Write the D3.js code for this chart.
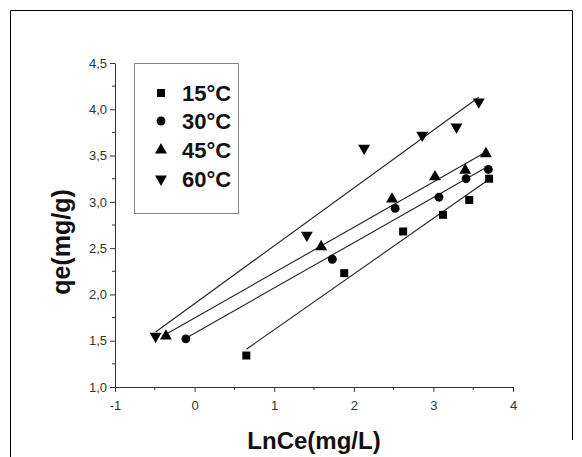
<!DOCTYPE html>
<html>
<head>
<meta charset="utf-8">
<script src="https://cdn.jsdelivr.net/npm/d3@7"></script>
<style>
  html, body { margin: 0; padding: 0; background: #fff; }
  svg { display: block; }
</style>
</head>
<body>
<svg id="chart" width="582" height="457"></svg>
<script>
// ---- data ----
const seriesNames = ["15°C", "30°C", "45°C", "60°C"];
const x15 = [0.65, 1.88, 2.62, 3.12, 3.45, 3.70];
const y15 = [1.34, 2.23, 2.68, 2.86, 3.02, 3.25];
const x30 = [-0.11, 1.73, 2.52, 3.07, 3.41, 3.69];
const y30 = [1.52, 2.38, 2.93, 3.05, 3.25, 3.35];
const x45 = [-0.36, 1.59, 2.48, 3.02, 3.40, 3.66];
const y45 = [1.55, 2.515, 3.03, 3.27, 3.34, 3.52];
const x60 = [-0.49, 1.41, 2.13, 2.86, 3.29, 3.57];
const y60 = [1.55, 2.64, 3.58, 3.72, 3.81, 4.08];
const xTicks = [-1, 0, 1, 2, 3, 4];
const xMinorTicks = [-0.5, 0.5, 1.5, 2.5, 3.5];
const yTicks = [1.0, 1.5, 2.0, 2.5, 3.0, 3.5, 4.0, 4.5];
const yMinorTicks = [1.25, 1.75, 2.25, 2.75, 3.25, 3.75, 4.25];
const xTitle = "LnCe(mg/L)";
const yTitle = "qe(mg/g)";

const xs = [x15, x30, x45, x60];
const ys = [y15, y30, y45, y60];
const symbols = ["square", "circle", "up", "down"];

const svg = d3.select("#chart");
const font = "'Liberation Sans', Arial, sans-serif";

// outer frame
svg.append("path")
  .attr("d", "M10.5,457 L10.5,10.5 L572.5,10.5 L572.5,440")
  .attr("fill", "none").attr("stroke", "#000").attr("stroke-width", 1);

const x = d3.scaleLinear().domain([-1, 4]).range([115, 513]);
const y = d3.scaleLinear().domain([1, 4.5]).range([387, 63]);

const axisColor = "#333";

// X axis
const gx = svg.append("g").attr("transform", "translate(0,387)");
gx.call(d3.axisBottom(x).tickValues(xTicks).tickSize(5).tickSizeOuter(0).tickPadding(9)
  .tickFormat(d => String(d)));
gx.append("g").selectAll("line").data(xMinorTicks).join("line")
  .attr("x1", d => x(d)).attr("x2", d => x(d)).attr("y1", 0).attr("y2", 3);
gx.selectAll("path, line").attr("stroke", axisColor);
gx.selectAll("text").attr("font-family", font).attr("font-size", 13).attr("fill", "#333");

// Y axis
const gy = svg.append("g").attr("transform", "translate(115,0)");
gy.call(d3.axisLeft(y).tickValues(yTicks).tickSize(5).tickSizeOuter(0).tickPadding(3)
  .tickFormat(d => d.toFixed(1).replace(".", ",")));
gy.append("g").selectAll("line").data(yMinorTicks).join("line")
  .attr("y1", d => y(d)).attr("y2", d => y(d)).attr("x1", 0).attr("x2", -3);
gy.selectAll("path, line").attr("stroke", axisColor);
gy.selectAll("text").attr("font-family", font).attr("font-size", 13).attr("fill", "#333");

// axis titles
svg.append("text").attr("x", 314).attr("y", 449).attr("text-anchor", "middle")
  .attr("font-family", font).attr("font-weight", "bold").attr("font-size", 24)
  .attr("fill", "#111").text(xTitle);
svg.append("text").attr("transform", "translate(70,242) rotate(-90)").attr("text-anchor", "middle")
  .attr("font-family", font).attr("font-weight", "bold").attr("font-size", 25)
  .attr("fill", "#111").text(yTitle);

function symbolPath(kind) {
  if (kind === "square") return d3.symbol(d3.symbolSquare, 64)();
  if (kind === "circle") return d3.symbol(d3.symbolCircle, 62)();
  return d3.symbol(d3.symbolTriangle, 62)();
}
function symbolTransform(kind, px, py) {
  if (kind === "down") return `translate(${px},${py}) rotate(180)`;
  return `translate(${px},${py})`;
}

// regression lines
xs.forEach((xa, i) => {
  const ya = ys[i];
  const n = xa.length;
  const mx = d3.mean(xa), my = d3.mean(ya);
  let sxy = 0, sxx = 0;
  for (let k = 0; k < n; k++) { sxy += (xa[k]-mx)*(ya[k]-my); sxx += (xa[k]-mx)**2; }
  const b = sxy / sxx, a = my - b * mx;
  const x0 = d3.min(xa), x1 = d3.max(xa);
  svg.append("line")
    .attr("x1", x(x0)).attr("y1", y(a + b*x0))
    .attr("x2", x(x1)).attr("y2", y(a + b*x1))
    .attr("stroke", "#222").attr("stroke-width", 1.1);
});

// points
xs.forEach((xa, i) => {
  const ya = ys[i];
  const kind = symbols[i];
  svg.append("g").selectAll("path").data(xa.map((v, k) => [v, ya[k]])).join("path")
    .attr("d", symbolPath(kind))
    .attr("transform", d => symbolTransform(kind, x(d[0]), y(d[1])))
    .attr("fill", "#000");
});

// legend
const lg = svg.append("g");
lg.append("rect").attr("x", 134.5).attr("y", 63.5).attr("width", 104).attr("height", 150)
  .attr("fill", "#fff").attr("stroke", "#888").attr("stroke-width", 1);
const legendY = [93, 121, 150, 179];
seriesNames.forEach((name, i) => {
  lg.append("path").attr("d", symbolPath(symbols[i]))
    .attr("transform", symbolTransform(symbols[i], 161, legendY[i]))
    .attr("fill", "#000");
  lg.append("text").attr("x", 182).attr("y", legendY[i] + 8)
    .attr("font-family", font).attr("font-weight", "bold").attr("font-size", 22)
    .attr("fill", "#111").text(name);
});
</script>
</body>
</html>
